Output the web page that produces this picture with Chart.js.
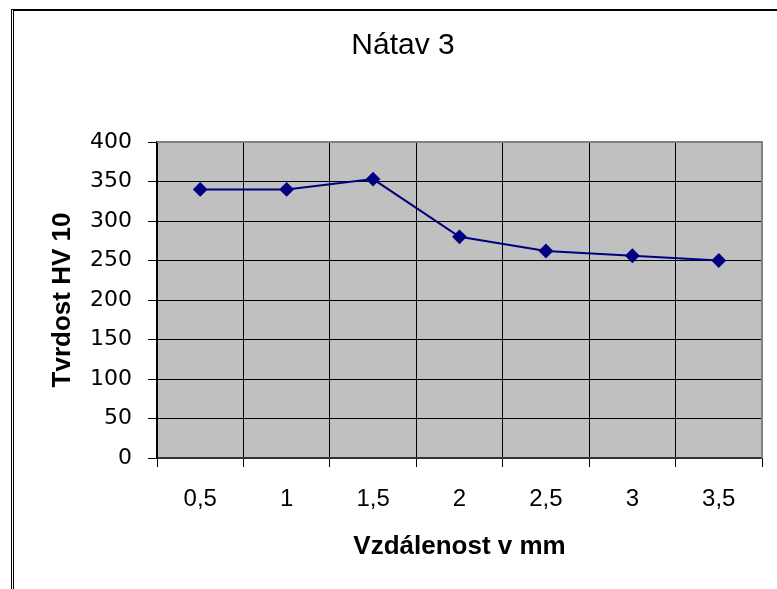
<!DOCTYPE html>
<html>
<head>
<meta charset="utf-8">
<script src="https://cdn.jsdelivr.net/npm/chart.js@4/dist/chart.umd.min.js"></script>
<style>
  body { margin: 0; background: #fff; overflow: hidden; }
  #wrap { position: relative; width: 777px; height: 589px; }
  #frame { position: absolute; left: 11px; top: 9px; width: 800px; height: 600px;
           border-left: 3px double #000; border-top: 2px solid #000; pointer-events: none; }
  canvas { position: absolute; left: 0; top: 0; }
</style>
</head>
<body>
<div id="wrap">
  <canvas id="chart" width="777" height="589"></canvas>
  <div id="frame"></div>
</div>
<script>
// data
const distances = ['0,5', '1', '1,5', '2', '2,5', '3', '3,5'];
const hardness = [340, 340, 353, 280, 262, 256, 250];
const yTicks = [0, 50, 100, 150, 200, 250, 300, 350, 400];

// grey plot background + grey top/right edge like the excel chart
const plotBg = {
    id: 'plotBg',
    beforeDraw(chart) {
        const {ctx, chartArea: a} = chart;
        ctx.save();
        ctx.fillStyle = '#c0c0c0';
        ctx.fillRect(a.left, a.top, a.right - a.left, a.bottom - a.top);
        ctx.restore();
    },
    beforeDatasetsDraw(chart) {
        const {ctx, chartArea: a} = chart;
        ctx.save();
        ctx.strokeStyle = '#808080';
        ctx.lineWidth = 2;
        ctx.beginPath();
        ctx.moveTo(a.left, a.top);
        ctx.lineTo(a.right, a.top);
        ctx.lineTo(a.right, a.bottom);
        ctx.stroke();
        ctx.restore();
    }
};

const ctx = document.getElementById('chart').getContext('2d');
new Chart(ctx, {
    type: 'line',
    data: {
        labels: distances,
        datasets: [{
            label: 'Tvrdost',
            data: hardness,
            borderColor: '#000080',
            backgroundColor: '#000080',
            borderWidth: 2,
            pointStyle: 'rectRot',
            pointRadius: 6,
            pointHoverRadius: 6,
            tension: 0,
        }],
    },
    options: {
        responsive: false,
        animation: false,
        devicePixelRatio: 1,
        layout: { padding: { left: 44, right: 15, top: 0, bottom: 0 } },
        plugins: {
            legend: { display: false },
            tooltip: { enabled: false },
            title: {
                display: true,
                text: 'Nátav 3',
                color: '#000',
                font: { family: 'Liberation Sans', size: 30, weight: 'normal' },
                padding: { top: 28, bottom: 78 },
            },
        },
        scales: {
            x: {
                type: 'category',
                offset: true,
                grid: { color: '#000', lineWidth: 1, offset: true, tickLength: 9 },
                border: { color: '#333', width: 2 },
                ticks: {
                    color: '#000',
                    font: { family: 'Liberation Sans', size: 24 },
                    padding: 18,
                    maxRotation: 0,
                },
                title: {
                    display: true,
                    text: 'Vzdálenost v mm',
                    color: '#000',
                    font: { family: 'Liberation Sans', size: 26, weight: 'bold' },
                    padding: { top: 0, bottom: 27 },
                },
                afterFit: (scale) => { scale.height = 131; },
            },
            y: {
                min: 0,
                max: 400,
                afterBuildTicks: (scale) => { scale.ticks = yTicks.map((v) => ({value: v})); },
                grid: { color: '#000', lineWidth: 1, tickLength: 9 },
                border: { color: '#000', width: 2 },
                ticks: {
                    color: '#000',
                    font: { family: 'DejaVu Sans', size: 22 },
                    padding: 16,
                },
                title: {
                    display: true,
                    text: 'Tvrdost HV 10',
                    color: '#000',
                    font: { family: 'Liberation Sans', size: 26, weight: 'bold' },
                    padding: { top: 3, bottom: 0 },
                },
                afterFit: (scale) => { scale.width = 113; },
            },
        },
    },
    plugins: [plotBg],
});
</script>
</body>
</html>
